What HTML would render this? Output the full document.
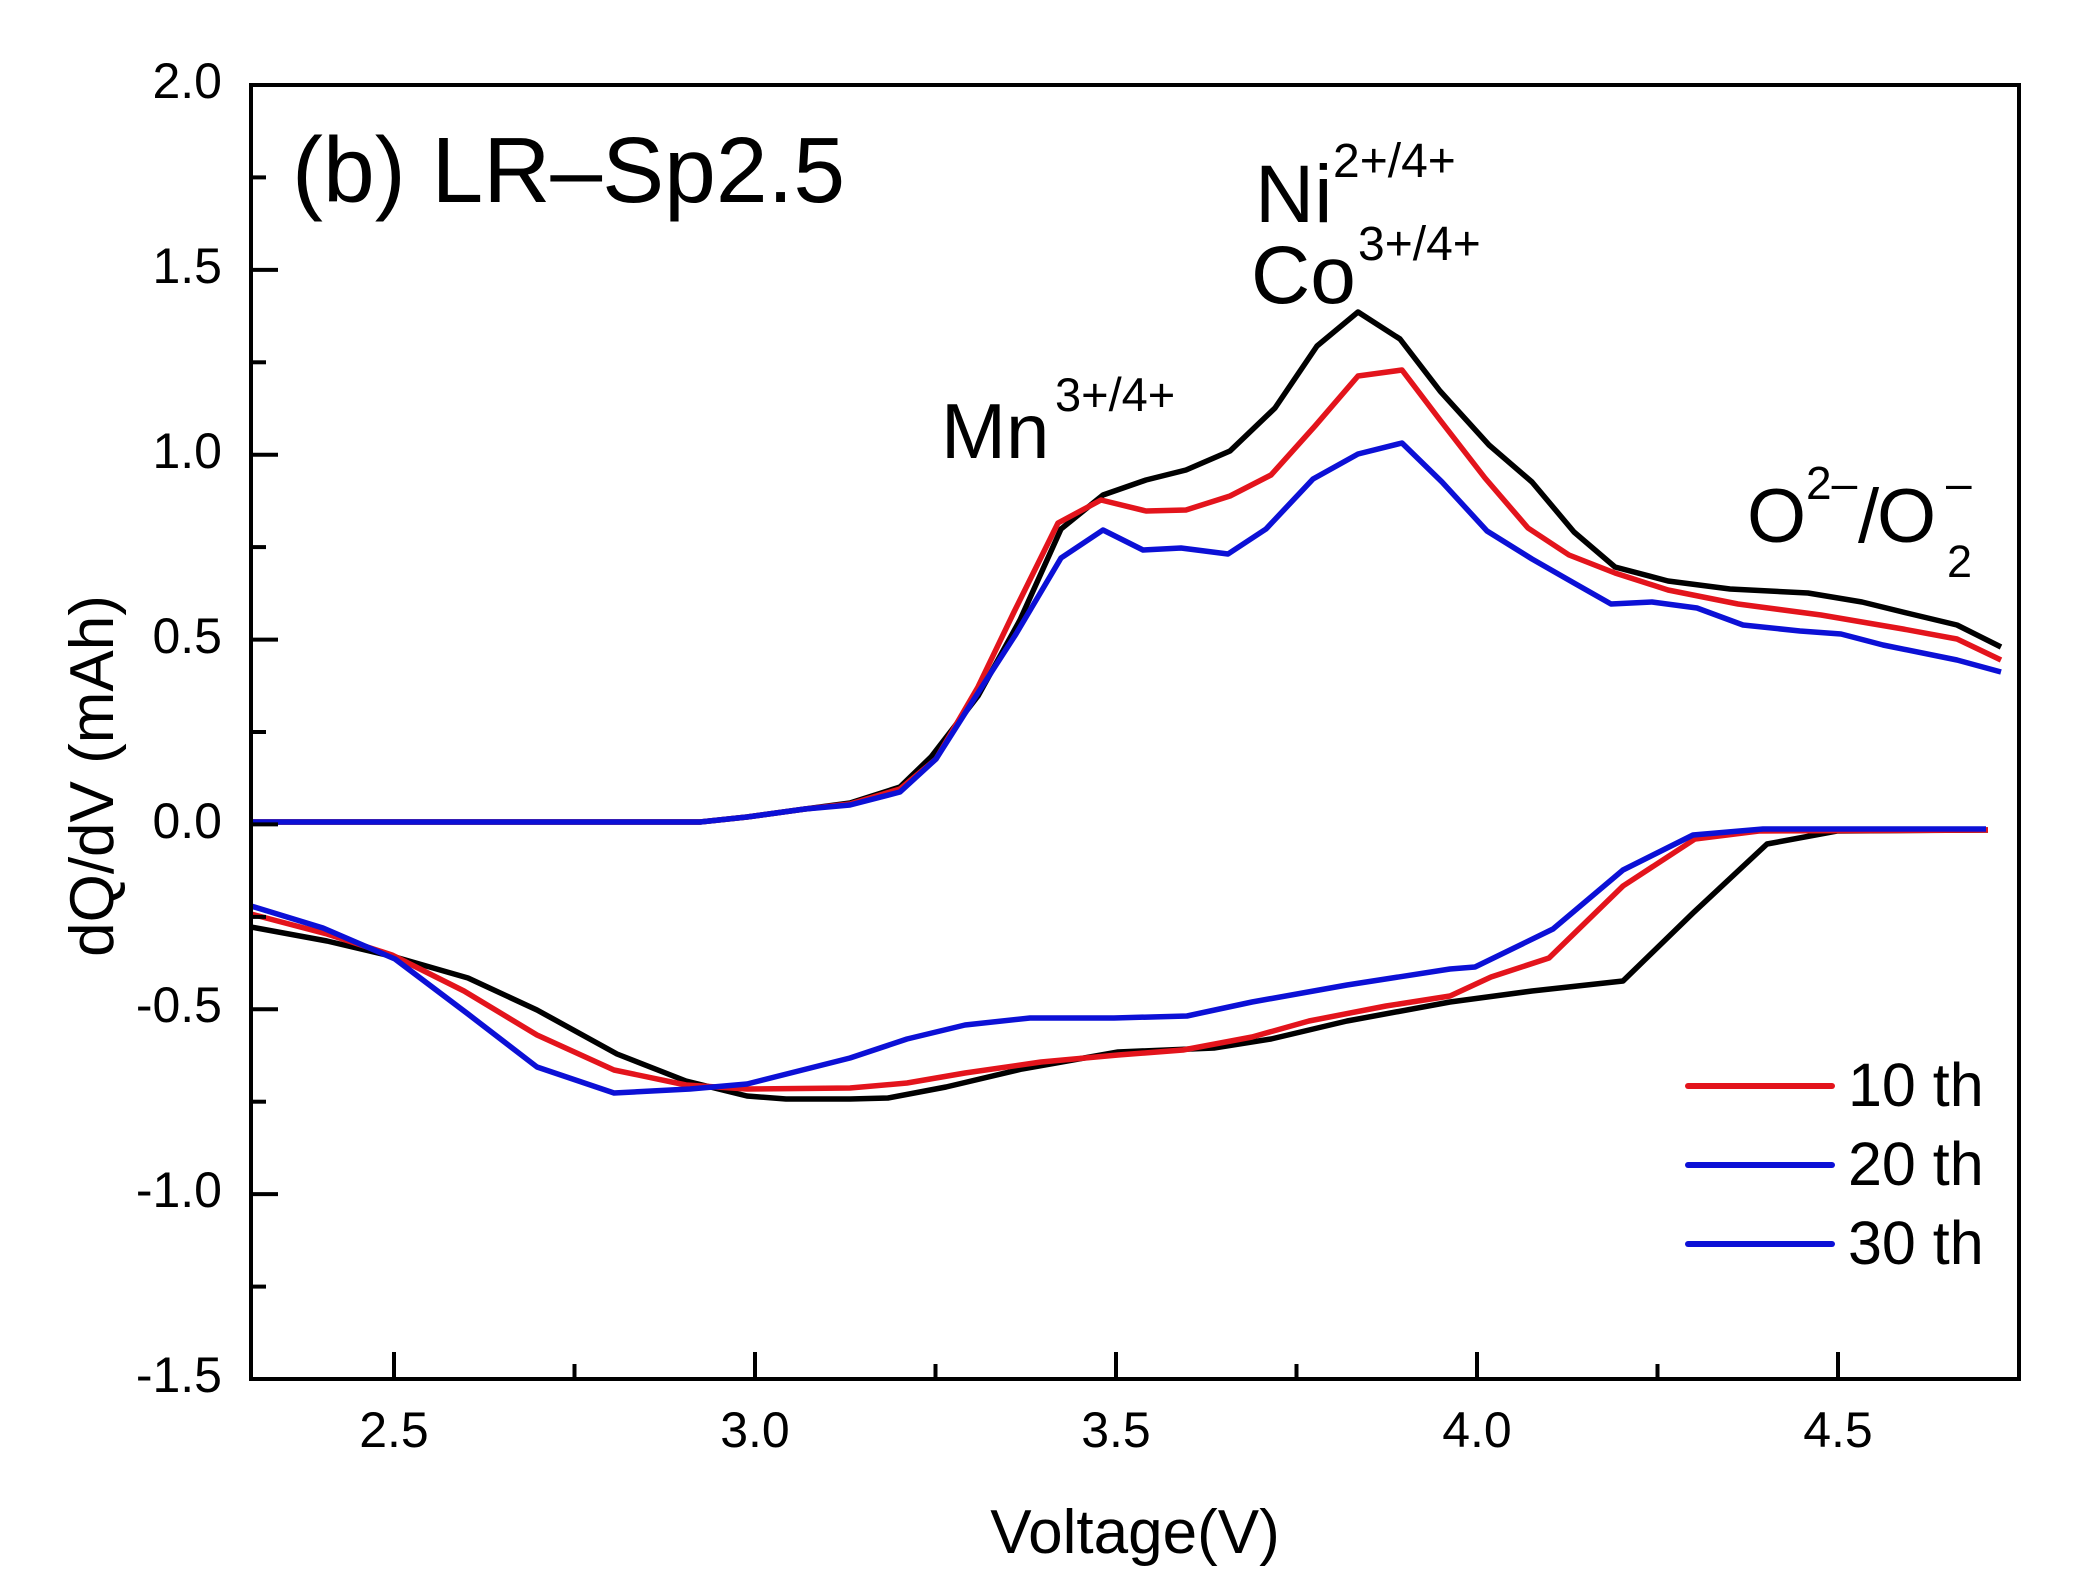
<!DOCTYPE html>
<html>
<head>
<meta charset="utf-8">
<style>
html,body{margin:0;padding:0;background:#fff;}
svg{display:block;}
text{font-family:"Liberation Sans",Arial,sans-serif;fill:#000;}
</style>
</head>
<body>
<svg width="2096" height="1588" viewBox="0 0 2096 1588" xmlns="http://www.w3.org/2000/svg">
<rect x="0" y="0" width="2096" height="1588" fill="#fff"/>

<!-- curves -->
<g fill="none" stroke-width="5.5" stroke-linejoin="round" stroke-linecap="butt">
<!-- black -->
<polyline stroke="#000" points="251,822 700,822 747,817 805,809 850,803 900,787 931,757 978,696 1020,620 1061,529 1103,495 1146,480 1186,470 1230,451 1275,408 1317,346 1358,312 1400,339 1440,391 1489,445 1532,482 1574,532 1615,567 1668,581 1730,589 1808,593 1862,602 1911,614 1957,625 2001,647"/>
<polyline stroke="#000" points="251,927 327,941 395,957 468,978 537,1010 617,1054 686,1081 747,1096 786,1099 850,1099 888,1098 946,1087 1022,1069 1118,1052 1214,1048 1271,1039 1347,1021 1450,1002 1532,991 1623,981 1693,913 1767,844 1837,831 1988,830"/>
<!-- red -->
<polyline stroke="#e3141c" points="251,822 700,822 747,817 805,809 850,804 900,789 936,759 978,687 1014,612 1058,523 1101,500 1146,511 1186,510 1230,496 1271,475 1315,426 1358,376 1402,370 1440,420 1485,478 1528,528 1569,555 1615,573 1668,590 1738,604 1821,615 1903,629 1957,639 2001,660"/>
<polyline stroke="#e3141c" points="251,914 327,934 392,955 464,991 537,1035 614,1070 686,1085 747,1089 850,1088 907,1083 965,1073 1041,1062 1118,1055 1183,1050 1252,1037 1309,1021 1386,1006 1450,996 1491,977 1549,958 1623,886 1695,839 1759,831 1988,830"/>
<!-- blue -->
<polyline stroke="#0c10d6" points="251,822 700,822 747,817 805,809 850,805 900,792 936,759 976,696 1016,634 1061,558 1103,530 1143,550 1181,548 1228,554 1266,529 1313,479 1358,454 1402,443 1442,482 1487,531 1532,559 1574,583 1611,604 1652,602 1697,608 1743,625 1800,631 1841,634 1883,645 1957,660 2001,672"/>
<polyline stroke="#0c10d6" points="251,906 323,928 395,959 468,1014 537,1067 614,1093 690,1089 747,1084 850,1058 907,1039 965,1025 1030,1018 1114,1018 1187,1016 1252,1002 1347,985 1450,969 1475,967 1553,929 1623,870 1693,835 1763,829 1986,829"/>
</g>

<!-- axes frame -->
<rect x="251" y="85" width="1768" height="1294" fill="none" stroke="#000" stroke-width="4"/>

<!-- ticks -->
<g stroke="#000" stroke-width="4">
<!-- x major -->
<line x1="394" y1="1379" x2="394" y2="1352"/>
<line x1="755" y1="1379" x2="755" y2="1352"/>
<line x1="1116" y1="1379" x2="1116" y2="1352"/>
<line x1="1477" y1="1379" x2="1477" y2="1352"/>
<line x1="1838" y1="1379" x2="1838" y2="1352"/>
<!-- x minor -->
<line x1="574.5" y1="1379" x2="574.5" y2="1364"/>
<line x1="935.5" y1="1379" x2="935.5" y2="1364"/>
<line x1="1296.5" y1="1379" x2="1296.5" y2="1364"/>
<line x1="1657.5" y1="1379" x2="1657.5" y2="1364"/>
<!-- y major -->
<line x1="251" y1="269.9" x2="278" y2="269.9"/>
<line x1="251" y1="454.7" x2="278" y2="454.7"/>
<line x1="251" y1="639.6" x2="278" y2="639.6"/>
<line x1="251" y1="824.4" x2="278" y2="824.4"/>
<line x1="251" y1="1009.3" x2="278" y2="1009.3"/>
<line x1="251" y1="1194.1" x2="278" y2="1194.1"/>
<!-- y minor -->
<line x1="251" y1="177.4" x2="266" y2="177.4"/>
<line x1="251" y1="362.3" x2="266" y2="362.3"/>
<line x1="251" y1="547.1" x2="266" y2="547.1"/>
<line x1="251" y1="732" x2="266" y2="732"/>
<line x1="251" y1="916.9" x2="266" y2="916.9"/>
<line x1="251" y1="1101.7" x2="266" y2="1101.7"/>
<line x1="251" y1="1286.6" x2="266" y2="1286.6"/>
</g>

<!-- y tick labels -->
<g font-size="50" text-anchor="end">
<text x="222" y="98">2.0</text>
<text x="222" y="283">1.5</text>
<text x="222" y="468">1.0</text>
<text x="222" y="653">0.5</text>
<text x="222" y="838">0.0</text>
<text x="222" y="1022">-0.5</text>
<text x="222" y="1207">-1.0</text>
<text x="222" y="1392">-1.5</text>
</g>

<!-- x tick labels -->
<g font-size="50" text-anchor="middle">
<text x="394" y="1447">2.5</text>
<text x="755" y="1447">3.0</text>
<text x="1116" y="1447">3.5</text>
<text x="1477" y="1447">4.0</text>
<text x="1838" y="1447">4.5</text>
</g>

<!-- axis titles -->
<text x="1135" y="1553" font-size="62" text-anchor="middle">Voltage(V)</text>
<text x="0" y="0" font-size="62" text-anchor="middle" transform="translate(113,776) rotate(-90)">dQ/dV (mAh)</text>

<!-- panel title -->
<text x="292" y="202" font-size="93">(b) LR–Sp2.5</text>

<!-- annotations -->
<text x="941" y="458" font-size="78">Mn</text>
<text x="1055" y="411" font-size="47">3+/4+</text>

<text x="1255" y="222" font-size="82">Ni</text>
<text x="1333" y="177" font-size="48">2+/4+</text>
<text x="1251" y="303" font-size="82">Co</text>
<text x="1358" y="260" font-size="48">3+/4+</text>

<text x="1747" y="542" font-size="76">O</text>
<text x="1806" y="499" font-size="46">2–</text>
<text x="1858" y="542" font-size="76">/</text>
<text x="1877" y="542" font-size="76">O</text>
<text x="1946" y="499" font-size="46">–</text>
<text x="1947" y="577" font-size="45">2</text>

<!-- legend -->
<g stroke-width="6" stroke-linecap="round">
<line x1="1688" y1="1086" x2="1832" y2="1086" stroke="#e3141c"/>
<line x1="1688" y1="1165" x2="1832" y2="1165" stroke="#0c10d6"/>
<line x1="1688" y1="1244" x2="1832" y2="1244" stroke="#0c10d6"/>
</g>
<g font-size="61">
<text x="1848" y="1106">10 th</text>
<text x="1848" y="1185">20 th</text>
<text x="1848" y="1264">30 th</text>
</g>
</svg>
</body>
</html>
